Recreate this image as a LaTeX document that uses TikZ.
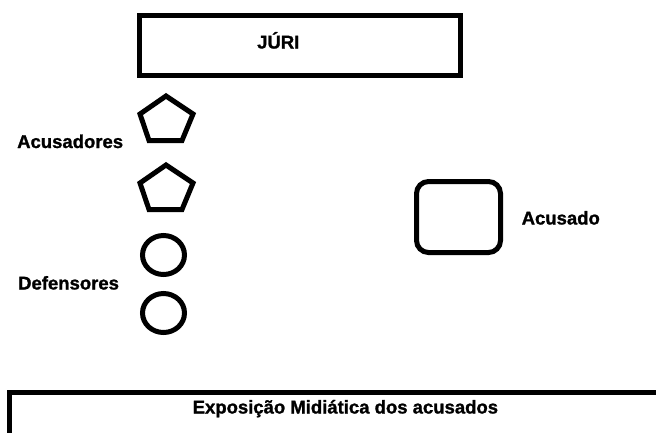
\documentclass[tikz,border=0pt]{standalone}
\usepackage{fontspec}
\setmainfont{Liberation Sans}
\newfontfamily\rotulofont{Liberation Sans Bold}[FakeBold=1.2]
\usepackage{tikz}

\begin{document}
\begin{tikzpicture}[x=1pt, y=-1pt,
        figura/.style={line width=5pt, line join=miter},
        rotulo/.style={anchor=base west, inner sep=0pt, font=\fontsize{18.5}{20}\rotulofont}]
        % Page size
        \clip (0,0) rectangle (656,432);
        \fill[white] (0,0) rectangle (656,432);

        % Jury box
        \draw[figura] (139.5,15.5) rectangle (460.5,75.5);
        \node[rotulo] (juri) at (257,48.5) {JÚRI};

        % Two accusers (pentagons)
        \foreach \dy in {0, 69}
        \draw[figura, shift={(0,\dy)}] (166,96) -- (140,114) -- (149,140.5) -- (182,140.5) -- (193,114) -- cycle;
        \node[rotulo] (acusadores) at (17,148) {Acusadores};

        % Two defenders (circles)
        \foreach \y in {255, 313}
        \draw[figura] (163.5,\y) ellipse [x radius=21, y radius=19.5];
        \node[rotulo] (defensores) at (18,289.5) {Defensores};

        % The accused
        \draw[figura, rounded corners=12pt] (416.5,181.5) rectangle (500.5,252.5);
        \node[rotulo] (acusado) at (521.5,224.5) {Acusado};

        % Media box, runs off the page
        \draw[figura] (9.5,450) -- (9.5,392.5) -- (680,392.5);
        \node[rotulo] (midia) at (192.5,413.5) {Exposição Midiática dos acusados};
    \end{tikzpicture}
\end{document}
